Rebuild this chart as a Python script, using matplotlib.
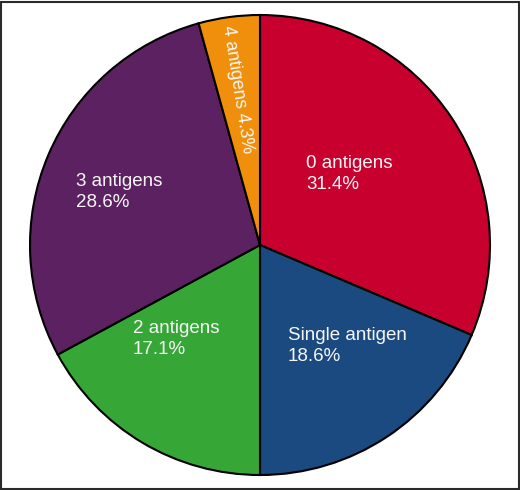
import matplotlib.pyplot as plt
from matplotlib.patches import Rectangle

labels = ["0 antigens", "Single antigen", "2 antigens", "3 antigens", "4 antigens"]
shares = [31.4, 18.6, 17.1, 28.6, 4.3]
colors = ["#C8002E", "#1A4A80", "#36A737", "#5C2160", "#F08F0C"]

# label placement in pixel coords (x, y from top)
label_pos = [(306, 174), (288, 346), (133, 339), (76, 192)]

W, H = 520, 490

fig = plt.figure(figsize=(W / 100, H / 100), dpi=100)
ax = fig.add_axes([0, 0, 1, 1])

ax.pie(shares, colors=colors, startangle=90, counterclock=False,
       center=(260, H - 245), radius=230, frame=True,
       wedgeprops=dict(edgecolor="black", linewidth=1.5))
ax.set_xlim(0, W)
ax.set_ylim(0, H)
ax.set_aspect("equal")
ax.axis("off")

text_kw = dict(color="#F7F7F7", fontsize=13.5, family="Liberation Sans",
               linespacing=1.35)
for lab, val, (px, py) in zip(labels[:4], shares[:4], label_pos):
    ax.text(px, H - py, f"{lab}\n{val}%", ha="left", va="center", **text_kw)

ax.text(237, H - 89, f"{labels[4]} {shares[4]}%", ha="center", va="center",
        rotation=-81, rotation_mode="anchor", **{**text_kw, "fontsize": 13})

fig.patches.append(Rectangle((0.002, 0.002), 0.996, 0.994, transform=fig.transFigure,
                             fill=False, edgecolor="#2a2a2a", linewidth=1.5))

fig.savefig("out.png", dpi=100)
